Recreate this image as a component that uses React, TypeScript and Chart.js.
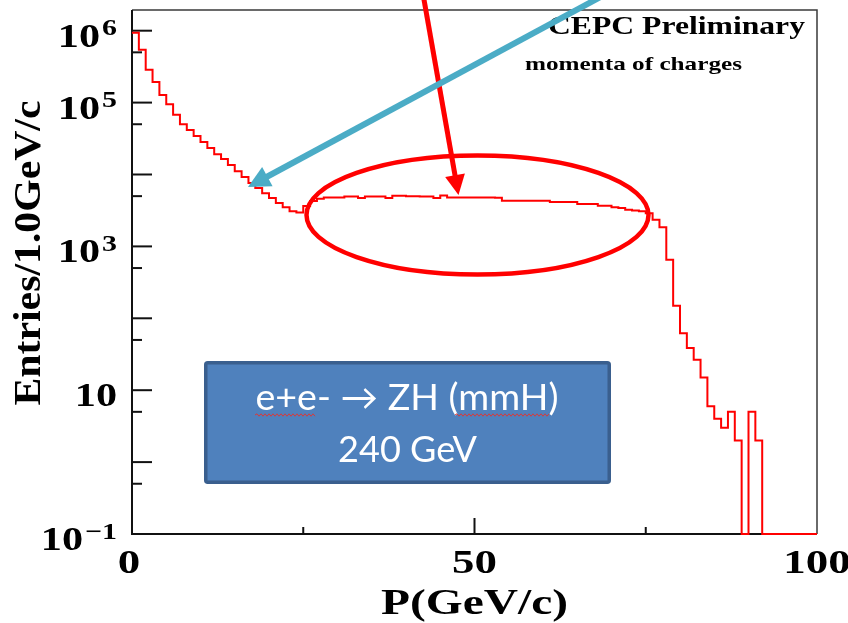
import React, { useEffect, useRef } from "react";
import { Chart, registerables } from "chart.js";

Chart.register(...registerables);

// ---------------- data ----------------
const X_MIN = 0;
const X_MAX = 100;
const BIN_WIDTH = 1; // GeV/c per bin
const Y_MIN = 0.1;
const Y_MAX = 1.94e6;

// entries per 1 GeV/c bin, bins 0..99
const COUNTS: number[] = [
  935000, 542000, 286000, 193000, 128000, 95000, 67700, 50000, 41500, 34200,
  28200, 23300, 19200, 16400, 13500, 11100, 9200, 7600, 6500, 5500,
  4700, 4000, 3490, 3070, 2970, 3640, 4270, 4590, 4800, 4800,
  4800, 4960, 4960, 4700, 4960, 4960, 4960, 4700, 5050, 5050,
  5000, 5000, 4960, 4960, 4700, 5120, 4800, 4800, 4800, 4800,
  4800, 4800, 4800, 4750, 4310, 4310, 4310, 4310, 4310, 4310,
  4300, 4130, 4130, 4130, 4130, 3880, 3880, 3880, 3670, 3670,
  3500, 3410, 3230, 3150, 3070, 2900, 2340, 1840, 651, 149,
  62, 38.5, 26.5, 15, 6, 4, 3, 5, 2, 0,
  5, 2, 0, 0, 0, 0, 0, 0, 0, 0,
];

const Y_MAJOR_TICKS = [0.1, 1, 10, 100, 1e3, 1e4, 1e5, 1e6];
const Y_MINOR_TICKS = [0.5, 5, 50, 500, 5e3, 5e4, 5e5];
const Y_LABEL_VALUES = [1e6, 1e5, 1e3, 10, 0.1];
const Y_LABEL_BASE = "10";
const Y_LABEL_EXPONENTS = ["6", "5", "3", "", "\u22121"];

const X_MAJOR_TICKS = [50];
const X_MINOR_TICKS = [25, 75];
const X_LABEL_VALUES = [0, 50, 100];
const X_TICK_LABELS = ["0", "50", "100"];

const TITLE = "CEPC Preliminary";
const SUBTITLE = "momenta of charges";
const X_TITLE = "P(GeV/c)";
const Y_TITLE = "Entries/1.0GeV/c";
const BOX_LINES = ["e+e- \u2192 ZH (mmH)", "240 GeV"];

// ---------------- drawing helpers ----------------
const SERIF = '"Liberation Serif", "Times New Roman", serif';
const SANS = 'Lato, "DejaVu Sans", sans-serif';

function drawScaled(ctx: CanvasRenderingContext2D, text: string, font: string, x: number, y: number, align: CanvasTextAlign, sx: number) {
  ctx.save();
  ctx.font = font;
  ctx.textAlign = align;
  ctx.textBaseline = "alphabetic";
  ctx.translate(x, y);
  ctx.scale(sx, 1);
  ctx.fillText(text, 0, 0);
  ctx.restore();
}

function fitScale(ctx: CanvasRenderingContext2D, text: string, font: string, width: number) {
  ctx.save();
  ctx.font = font;
  const w = ctx.measureText(text).width;
  ctx.restore();
  return width / w;
}

function arrow(ctx: CanvasRenderingContext2D, x0: number, y0: number, x1: number, y1: number, color: string, lw: number, headLen: number, headHalf: number) {
  const dx = x1 - x0;
  const dy = y1 - y0;
  const L = Math.hypot(dx, dy);
  const ux = dx / L;
  const uy = dy / L;
  const bx = x1 - ux * headLen;
  const by = y1 - uy * headLen;
  ctx.save();
  ctx.strokeStyle = color;
  ctx.fillStyle = color;
  ctx.lineWidth = lw;
  ctx.lineCap = "butt";
  ctx.beginPath();
  ctx.moveTo(x0, y0);
  ctx.lineTo(bx + ux * 2, by + uy * 2);
  ctx.stroke();
  ctx.beginPath();
  ctx.moveTo(x1, y1);
  ctx.lineTo(bx - uy * headHalf, by + ux * headHalf);
  ctx.lineTo(bx + uy * headHalf, by - ux * headHalf);
  ctx.closePath();
  ctx.fill();
  ctx.restore();
}

function wavy(ctx: CanvasRenderingContext2D, x0: number, x1: number, y: number) {
  ctx.save();
  ctx.strokeStyle = "#d83a3a";
  ctx.lineWidth = 1;
  ctx.beginPath();
  let up = true;
  ctx.moveTo(x0, y);
  for (let x = x0 + 2; x <= x1; x += 2) {
    ctx.lineTo(x, up ? y - 1.2 : y + 1.2);
    up = !up;
  }
  ctx.stroke();
  ctx.restore();
}

const rootStylePlugin = {
  id: "rootStyle",
  beforeDraw(chart: any) {
    const ctx = chart.ctx as CanvasRenderingContext2D;
    ctx.save();
    ctx.fillStyle = "#ffffff";
    ctx.fillRect(0, 0, chart.width, chart.height);
    ctx.restore();
  },
  beforeDatasetsDraw(chart: any) {
    const ctx = chart.ctx as CanvasRenderingContext2D;
    const ca = chart.chartArea;
    const xs = chart.scales.x;
    const ys = chart.scales.y;
    ctx.save();
    // frame
    ctx.strokeStyle = "#3a3a3a";
    ctx.lineWidth = 1.5;
    ctx.beginPath();
    ctx.moveTo(ca.left, ca.top);
    ctx.lineTo(ca.right, ca.top);
    ctx.lineTo(ca.right, ca.bottom);
    ctx.stroke();
    ctx.strokeStyle = "#111";
    ctx.lineWidth = 2;
    ctx.beginPath();
    ctx.moveTo(ca.left, ca.top);
    ctx.lineTo(ca.left, ca.bottom);
    ctx.lineTo(ca.right, ca.bottom);
    ctx.stroke();
    // y ticks (inward)
    ctx.lineWidth = 2;
    Y_MAJOR_TICKS.forEach((v) => {
      const py = ys.getPixelForValue(v);
      ctx.beginPath();
      ctx.moveTo(ca.left, py);
      ctx.lineTo(ca.left + 20, py);
      ctx.stroke();
    });
    Y_MINOR_TICKS.forEach((v) => {
      const py = ys.getPixelForValue(v);
      ctx.beginPath();
      ctx.moveTo(ca.left, py);
      ctx.lineTo(ca.left + 10, py);
      ctx.stroke();
    });
    // x ticks
    X_MAJOR_TICKS.forEach((v) => {
      const px = xs.getPixelForValue(v);
      ctx.beginPath();
      ctx.moveTo(px, ca.bottom);
      ctx.lineTo(px, ca.bottom - 16);
      ctx.stroke();
    });
    X_MINOR_TICKS.forEach((v) => {
      const px = xs.getPixelForValue(v);
      ctx.beginPath();
      ctx.moveTo(px, ca.bottom);
      ctx.lineTo(px, ca.bottom - 7);
      ctx.stroke();
    });
    ctx.restore();

    ctx.fillStyle = "#000";
    // y labels
    Y_LABEL_VALUES.forEach((v, i) => {
      const py = ys.getPixelForValue(v);
      const exp = Y_LABEL_EXPONENTS[i];
      let right = ca.left - 15;
      if (exp) {
        const ef = `bold 23px ${SERIF}`;
        ctx.save();
        ctx.font = ef;
        const ew = ctx.measureText(exp).width * 1.3;
        ctx.restore();
        drawScaled(ctx, exp, ef, right, py + 4.5, "right", 1.3);
        right -= ew + 2;
      }
      drawScaled(ctx, Y_LABEL_BASE, `bold 33px ${SERIF}`, right, py + 16, "right", 1.28);
    });
    // x labels
    X_LABEL_VALUES.forEach((v, i) => {
      const px = xs.getPixelForValue(v);
      drawScaled(ctx, X_TICK_LABELS[i], `bold 34px ${SERIF}`, px - (i === 0 ? 3 : 0), ca.bottom + 39, "center", 1.32);
    });
    // axis titles
    {
      const f = `bold 36px ${SERIF}`;
      drawScaled(ctx, X_TITLE, f, (ca.left + ca.right) / 2, 614, "center", fitScale(ctx, X_TITLE, f, 187));
    }
    {
      const f = `bold 37px ${SERIF}`;
      const s = fitScale(ctx, Y_TITLE, f, 305);
      ctx.save();
      ctx.translate(40, 253);
      ctx.rotate(-Math.PI / 2);
      drawScaled(ctx, Y_TITLE, f, 0, 0, "center", s);
      ctx.restore();
    }
    // titles
    {
      const f = `bold 25px ${SERIF}`;
      drawScaled(ctx, TITLE, f, 548, 33.5, "left", fitScale(ctx, TITLE, f, 257));
      const f2 = `bold 19px ${SERIF}`;
      drawScaled(ctx, SUBTITLE, f2, 525, 70, "left", fitScale(ctx, SUBTITLE, f2, 217));
    }
  },
  afterDatasetsDraw(chart: any) {
    const ctx = chart.ctx as CanvasRenderingContext2D;
    // red ellipse
    ctx.save();
    ctx.strokeStyle = "#ff0000";
    ctx.lineWidth = 4.5;
    ctx.beginPath();
    ctx.ellipse(477.5, 215, 171, 59.5, 0, 0, Math.PI * 2);
    ctx.stroke();
    ctx.restore();
    // arrows
    arrow(ctx, 423, -6, 458.5, 195, "#ff0000", 5, 20, 10);
    arrow(ctx, 606, -6, 248, 187, "#4BACC6", 6, 22, 11);
    // blue box
    ctx.save();
    const bx = 204, by = 361, bw = 407, bh = 123;
    ctx.fillStyle = "#4F81BD";
    ctx.strokeStyle = "#3A5F8E";
    ctx.lineWidth = 3.5;
    ctx.beginPath();
    ctx.roundRect(bx + 1.75, by + 1.75, bw - 3.5, bh - 3.5, 2);
    ctx.fill();
    ctx.stroke();
    ctx.fillStyle = "#ffffff";
    const f = `36px ${SANS}`;
    drawScaled(ctx, BOX_LINES[0], f, 407, 410, "center", fitScale(ctx, BOX_LINES[0], f, 303));
    drawScaled(ctx, BOX_LINES[1], f, 407.5, 461.5, "center", fitScale(ctx, BOX_LINES[1], f, 139));
    ctx.restore();
    wavy(ctx, 255, 316, 415);
    wavy(ctx, 455, 550, 415);
  },
};

export default function App() {
  const canvasRef = useRef<HTMLCanvasElement | null>(null);

  useEffect(() => {
    const canvas = canvasRef.current;
    if (!canvas) return;
    const points = COUNTS.map((c, i) => ({ x: X_MIN + i * BIN_WIDTH, y: c > 0 ? c : Y_MIN }));
    points.push({ x: X_MAX, y: COUNTS[COUNTS.length - 1] > 0 ? COUNTS[COUNTS.length - 1] : Y_MIN });

    const chart = new Chart(canvas, {
      type: "line",
      data: {
        datasets: [
          {
            label: "momenta of charges",
            data: points,
            borderColor: "#ff0000",
            borderWidth: 2,
            pointRadius: 0,
            fill: false,
            stepped: "before",
            tension: 0,
            clip: 4,
          } as any,
        ],
      },
      options: {
        responsive: false,
        animation: false,
        devicePixelRatio: 1,
        layout: { padding: { left: 132, right: 31, top: 10, bottom: 89 } },
        plugins: { legend: { display: false }, tooltip: { enabled: false }, title: { display: false } },
        scales: {
          x: { type: "linear", min: X_MIN, max: X_MAX, display: false },
          y: { type: "logarithmic", min: Y_MIN, max: Y_MAX, display: false },
        },
      },
      plugins: [rootStylePlugin],
    });
    return () => chart.destroy();
  }, []);

  return (
    <div style={{ position: "absolute", left: 0, top: 0, width: 848, height: 623, background: "#fff" }}>
      <canvas ref={canvasRef} width={848} height={623} style={{ display: "block" }} />
    </div>
  );
}
